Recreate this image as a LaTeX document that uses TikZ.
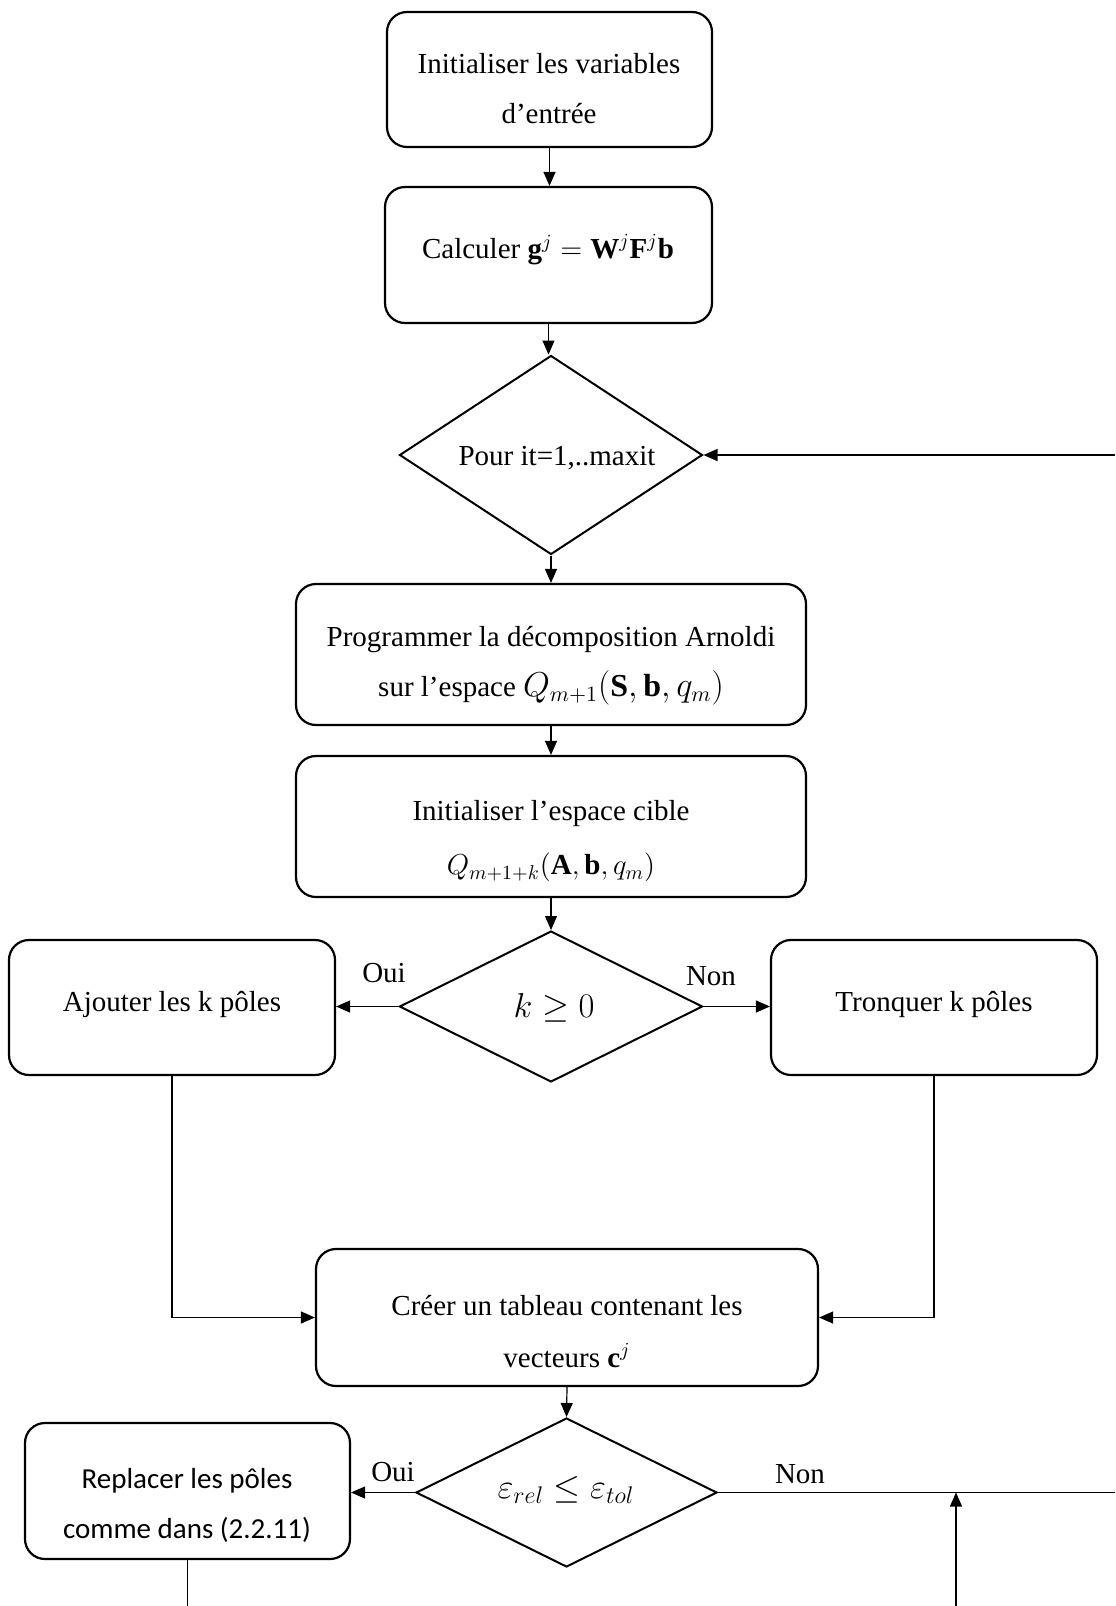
\documentclass[tikz,border=0pt]{standalone}
\usepackage{fontspec}
\setmainfont{Liberation Serif}
\newfontfamily\calfont{Carlito}
\usetikzlibrary{shapes.geometric,arrows.meta,calc}
\begin{document}
\begin{tikzpicture}[x=0.5pt,y=-0.5pt,
  box/.style={draw, line width=1.1pt, rounded corners=10pt, inner sep=0pt},
  dia/.style={draw, diamond, line width=1pt, inner sep=0pt},
  txt/.style={align=center, inner sep=0pt, font=\fontsize{14.5}{25}\selectfont},
  conn/.style={line width=0.6pt},
  arr/.style={conn, -{Triangle[length=7pt,width=6pt]}}]
\useasboundingbox (0,0) rectangle (1115,1606);
% boxes
\node[box, minimum width=162.5pt, minimum height=67.5pt] (b1) at (549.5,79.5) {};
\node[txt] (t1) at (549,88.5) {\strut Initialiser les variables\\\strut d’entrée};
\node[box, minimum width=163.5pt, minimum height=68pt] (b2) at (548.5,255) {};
\node[txt] (t2) at (548,248.5) {\strut Calculer $\textbf{g}^j = \textbf{W}^j\textbf{F}^j\textbf{b}$};
\node[dia, minimum width=151.5pt, minimum height=99.5pt] (d1) at (551,455) {};
\node[txt] (t3) at (557,455.5) {\strut Pour it=1,..maxit};
\node[box, minimum width=255pt, minimum height=70.5pt] (b3) at (551,654.5) {};
\node[txt] (t4) at (551,661.5) {\strut Programmer la décomposition Arnoldi\\\strut sur l’espace {\fontsize{16}{25}\selectfont$Q_{m+1}(\mathbf{S},\mathbf{b},q_m)$}};
\node[box, minimum width=255pt, minimum height=70.5pt] (b4) at (551,826.5) {};
\node[txt, font=\fontsize{14.5}{27}\selectfont] (t5) at (551,837) {\strut Initialiser l’espace cible\\\strut $Q_{m+1+k}(\mathbf{A},\mathbf{b},q_m)$};
\node[dia, minimum width=151.5pt, minimum height=75.5pt] (d2) at (551,1006.5) {};
\node[txt, font=\fontsize{16}{25}\selectfont] (t6) at (554,1007) {\strut $k \geq 0$};
\node[box, minimum width=163pt, minimum height=67.5pt] (aj) at (172,1007.5) {};
\node[txt] (t7) at (172,1001.5) {\strut Ajouter les k pôles};
\node[box, minimum width=163pt, minimum height=67.5pt] (tr) at (934,1007.5) {};
\node[txt] (t8) at (934,1001.5) {\strut Tronquer k pôles};
\node[box, minimum width=251pt, minimum height=68.5pt] (b5) at (567,1317.5) {};
\node[txt, font=\fontsize{14.5}{26}\selectfont] (t9) at (567,1331) {\strut Créer un tableau contenant les\\\strut vecteurs $\textbf{c}^j$};
\node[dia, minimum width=150.5pt, minimum height=74.5pt] (d3) at (566.5,1492.5) {};
\node[txt, font=\fontsize{17}{25}\selectfont] (t10) at (566,1488) {\strut $\varepsilon_{rel} \leq \varepsilon_{tol}$};
\node[box, minimum width=162.5pt, minimum height=68pt] (b6) at (187.5,1491) {};
\node[txt, font=\calfont\fontsize{14.5}{25}\selectfont] (t11) at (187,1503) {\strut Replacer les pôles\\\strut comme dans (2.2.11)};
% labels
\node[txt] (l1) at (384,972) {\strut Oui};
\node[txt] (l2) at (711,975) {\strut Non};
\node[txt] (l3) at (393,1471) {\strut Oui};
\node[txt] (l4) at (800,1473) {\strut Non};
% connectors
\draw[arr] (b1.south) -- (b1.south |- b2.north);
\draw[arr] (b2.south) -- (b2.south |- d1.north);
\coordinate (r1) at (1115,455);
\draw[arr] (r1) -- (d1.east);
\draw[arr] (d1.south) -- (b3.north);
\draw[arr] (b3.south) -- (b4.north);
\draw[arr] (b4.south) -- (d2.north);
\draw[arr] (d2.west) -- (d2.west -| aj.east);
\draw[arr] (d2.east) -- (d2.east -| tr.west);
\draw[arr] (aj.south) |- (b5.west);
\draw[arr] (tr.south) |- (b5.east);
\draw[arr] (b5.south) -- (d3.north);
\draw[arr] (d3.west) -- (d3.west -| b6.east);
\coordinate (r2) at (1115,1492.5);
\draw[conn] (d3.east) -- (r2);
\coordinate (bot1) at (187.5,1606);
\draw[conn] (b6.south) -- (bot1);
\coordinate (bot2) at (956,1606);
\coordinate (j2) at (956,1492.5);
\draw[arr] (bot2) -- (j2);
\end{tikzpicture}
\end{document}
